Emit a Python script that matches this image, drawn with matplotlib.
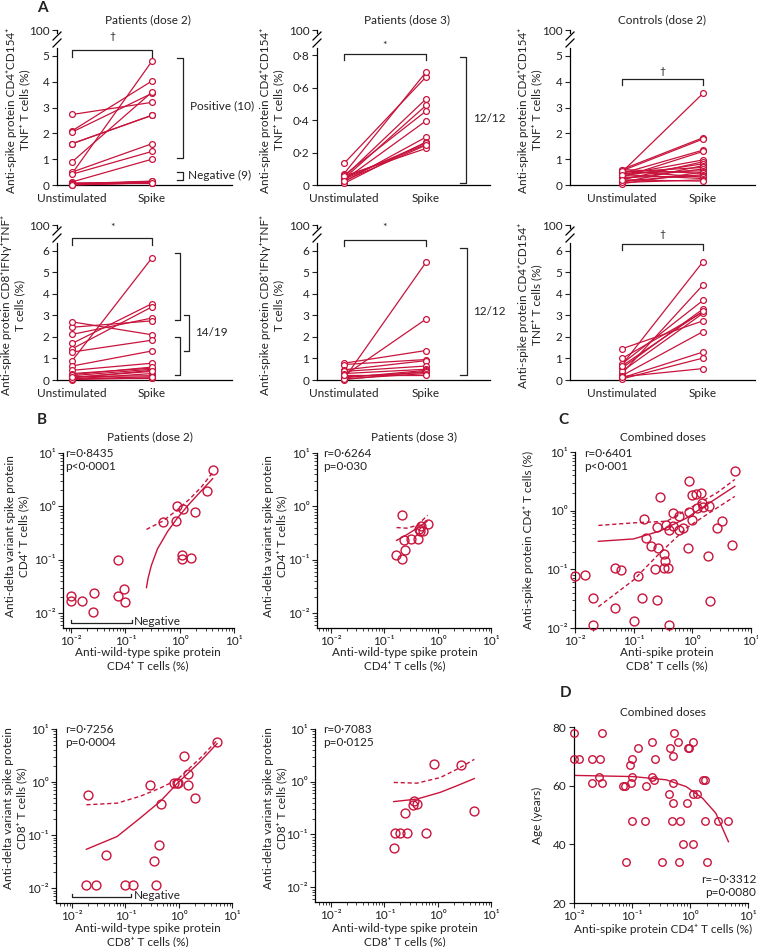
import matplotlib.pyplot as plt
from matplotlib.ticker import LogLocator, NullFormatter

plt.rcParams['font.family'] = ['Lato', 'DejaVu Sans']
plt.rcParams['font.size'] = 8.5
plt.rcParams['axes.linewidth'] = 0.9
plt.rcParams['text.color'] = '#222222'
plt.rcParams['xtick.color'] = '#222222'
plt.rcParams['ytick.color'] = '#222222'

RED = '#c8143c'
INK = '#222222'
W, H = 758, 947

# ---------------- panel A data (unstimulated vs spike, %) ----------------
cd4_d2_unstim = [2.73, 2.1, 2.05, 1.6, 1.6, 0.9, 0.45, 0.5, 0.42, 0.12,
                 0.05, 0.03, 0.02, 0.01, 0.08, 0.06, 0.04, 0.02, 0.0]
cd4_d2_spike = [3.2, 4.03, 3.55, 2.7, 2.7, 3.6, 4.8, 1.6, 1.3, 1.0,
                0.15, 0.12, 0.1, 0.08, 0.1, 0.06, 0.12, 0.14, 0.09]

cd4_d3_unstim = [0.133, 0.07, 0.05, 0.04, 0.06, 0.03, 0.02, 0.01, 0.045, 0.035, 0.055, 0.025]
cd4_d3_spike = [0.665, 0.695, 0.53, 0.49, 0.455, 0.395, 0.295, 0.265, 0.25, 0.26, 0.225, 0.245]

ctrl_cd4_unstim = [0.5, 0.6, 0.55, 0.45, 0.3, 0.4, 0.2, 0.35, 0.1, 0.5,
                   0.25, 0.45, 0.05, 0.6, 0.15, 0.3, 0.55, 0.4, 0.1, 0.2]
ctrl_cd4_spike = [3.55, 1.83, 1.78, 1.35, 1.3, 0.97, 0.9, 0.82, 0.75, 0.68,
                  0.62, 0.55, 0.5, 0.45, 0.4, 0.35, 0.3, 0.25, 0.2, 0.15]

cd8_d2_unstim = [0.9, 1.7, 1.45, 2.12, 2.45, 2.7, 1.3, 0.65, 0.45, 0.3,
                 0.2, 0.1, 0.05, 0.15, 0.02, 0.08, 0.25, 0.05, 0.12]
cd8_d2_spike = [5.68, 3.55, 3.4, 2.88, 2.75, 2.1, 1.85, 1.35, 0.78, 0.55,
                0.5, 0.45, 0.3, 0.2, 0.1, 0.08, 0.6, 0.15, 0.4]

cd8_d3_unstim = [0.05, 0.2, 0.78, 0.72, 0.47, 0.4, 0.3, 0.1, 0.02, 0.15, 0.05, 0.25]
cd8_d3_spike = [5.47, 2.83, 1.37, 0.95, 0.9, 0.65, 0.5, 0.45, 0.4, 0.35, 0.3, 0.25]

ctrl_cd4b_unstim = [0.7, 0.3, 0.75, 0.55, 1.0, 0.4, 1.45, 0.2, 0.1, 0.05, 0.15, 0.65]
ctrl_cd4b_spike = [5.5, 4.42, 3.7, 3.3, 3.15, 3.1, 2.75, 2.25, 1.3, 1.02, 0.53, 3.2]

# ---------------- panel B data (wild-type vs delta, %) ----------------
b1_wt = [0.0098, 0.0098, 0.0158, 0.0266, 0.0257, 0.073, 0.073, 0.095, 0.1,
         0.487, 0.89, 0.87, 1.15, 1.94, 1.12, 1.12, 1.6, 3.16, 4.04]
b1_delta = [0.021, 0.017, 0.0165, 0.024, 0.0104, 0.1, 0.021, 0.0287, 0.0158,
            0.52, 1.03, 0.54, 0.89, 0.77, 0.124, 0.105, 0.107, 1.97, 4.87]
b1_fit_x = [0.244, 0.26, 0.3, 0.39, 0.6, 0.89, 1.43, 2.55, 4.04]
b1_fit_y = [0.030, 0.044, 0.078, 0.16, 0.34, 0.59, 1.05, 2.0, 3.3]
b1_ci_x = [0.244, 0.49, 0.89, 1.5, 2.5, 4.04]
b1_ci_y = [0.37, 0.53, 0.85, 1.35, 2.3, 4.3]

b2_wt = [0.214, 0.23, 0.316, 0.43, 0.24, 0.168, 0.214, 0.49, 0.47, 0.53, 0.67, 0.45]
b2_delta = [0.70, 0.237, 0.245, 0.248, 0.155, 0.12, 0.104, 0.43, 0.34, 0.35, 0.47, 0.37]
b2_fit_x = [0.17, 0.266, 0.41, 0.63]
b2_fit_y = [0.23, 0.295, 0.39, 0.52]
b2_ci_x = [0.17, 0.266, 0.41, 0.65]
b2_ci_y = [0.40, 0.39, 0.44, 0.68]

b3_wt = [0.0197, 0.0186, 0.0286, 0.044, 0.1, 0.139, 0.286, 0.34, 0.42, 0.381,
         0.473, 0.806, 0.93, 1.24, 1.5, 1.47, 2.05, 5.25, 0.98]
b3_delta = [0.577, 0.0116, 0.0116, 0.0426, 0.0116, 0.0116, 0.877, 0.0318, 0.066, 0.0116,
            0.385, 0.957, 0.957, 3.05, 1.42, 0.89, 0.50, 5.6, 0.98]
b3_fit_x = [0.0186, 0.07, 0.19, 0.45, 0.93, 2.55, 5.25]
b3_fit_y = [0.054, 0.094, 0.21, 0.43, 0.93, 2.45, 5.3]
b3_ci_x = [0.0186, 0.07, 0.19, 0.45, 0.93, 2.55, 5.25]
b3_ci_y = [0.373, 0.40, 0.54, 0.77, 1.1, 2.84, 6.1]

b4_wt = [0.15, 0.161, 0.2, 0.266, 0.60, 0.248, 0.34, 0.365, 0.41, 0.84, 2.74, 4.87]
b4_delta = [0.0546, 0.109, 0.109, 0.109, 0.109, 0.255, 0.355, 0.44, 0.38, 2.2, 2.08, 0.274]
b4_fit_x = [0.15, 0.41, 1.12, 2.3, 4.87]
b4_fit_y = [0.42, 0.47, 0.63, 0.84, 1.15]
b4_ci_x = [0.15, 0.41, 1.12, 2.66, 4.87]
b4_ci_y = [0.97, 0.94, 1.2, 1.86, 2.66]

# ---------------- panel C data (CD8 vs CD4, combined) ----------------
c_cd8 = [0.01, 0.0148, 0.02, 0.02, 0.049, 0.06, 0.049, 0.119, 0.1, 0.139,
         0.247, 0.405, 0.15, 0.277, 0.25, 0.162, 0.197, 0.257, 0.228, 0.333,
         0.347, 0.333, 0.38, 0.356, 0.40, 0.474, 0.46, 0.6, 0.6, 0.68,
         0.83, 0.88, 0.88, 1.0, 1.14, 1.0, 1.19, 1.42, 1.48, 1.5,
         1.95, 1.87, 2.0, 3.16, 2.67, 4.8, 5.33]
c_cd4 = [0.078, 0.081, 0.032, 0.0114, 0.105, 0.096, 0.022, 0.076, 0.013, 0.032,
         0.030, 0.0114, 0.71, 1.71, 0.53, 0.34, 0.247, 0.231, 0.101, 0.185,
         0.137, 0.107, 0.107, 0.58, 0.47, 0.54, 0.91, 0.80, 0.47, 0.51,
         0.23, 3.24, 0.95, 1.87, 1.92, 0.68, 1.11, 1.97, 1.35, 1.15,
         1.2, 0.171, 0.0285, 0.66, 0.51, 0.26, 4.8]
c_fit_x = [0.025, 0.1, 0.28, 0.8, 1.75, 5.3]
c_fit_y = [0.30, 0.33, 0.45, 0.75, 1.26, 2.6]
c_hi_x = [0.025, 0.1, 0.366, 1.03, 2.6, 5.3]
c_hi_y = [0.56, 0.62, 0.66, 1.19, 2.0, 3.4]
c_lo_x = [0.025, 0.1, 0.28, 0.8, 1.75, 5.3]
c_lo_y = [0.023, 0.066, 0.19, 0.51, 0.855, 1.75]

# ---------------- panel D data (CD4 vs age) ----------------
d_cd4 = [0.01, 0.01, 0.0122, 0.0204, 0.0204, 0.0279, 0.0272, 0.0306, 0.0306, 0.070,
         0.075, 0.078, 0.091, 0.0975, 0.101, 0.102, 0.101, 0.127, 0.165, 0.176,
         0.223, 0.223, 0.235, 0.251, 0.331, 0.454, 0.504, 0.443, 0.504, 0.504,
         0.49, 0.538, 0.63, 0.683, 0.656, 0.748, 0.889, 0.912, 0.975, 1.11,
         1.11, 1.11, 1.3, 1.65, 1.81, 1.83, 1.93, 3.1, 4.6]
d_age = [78, 69, 69, 69, 61, 69, 63, 78, 61, 60,
         60, 34, 67, 61, 69, 63, 48, 73, 48, 60,
         75, 63, 62, 69, 34, 73, 70, 57, 61, 54,
         48, 78, 75, 48, 34, 40, 54, 73, 73, 75,
         57, 40, 57, 62, 62, 48, 34, 48, 48]
d_fit_x = [0.01, 0.104, 0.388, 0.853, 1.65, 2.79, 4.6]
d_fit_y = [63.5, 63.1, 62.0, 59.7, 55.7, 50.6, 40.9]

fig = plt.figure(figsize=(W / 100, H / 100), dpi=100)


def R(l, t, r, b):
    return [l / W, 1 - b / H, (r - l) / W, (b - t) / H]


def T(x, y, s, **kw):
    kw.setdefault('ha', 'center')
    kw.setdefault('va', 'center')
    fig.text(x / W, 1 - y / H, s, **kw)


def side_bracket(ax, x, x0, y0, y1):
    ax.plot([x0, x, x, x0], [y0, y0, y1, y1], color=INK, lw=0.9, clip_on=False)


def sig_bracket(ax, y, drop, sym, ysym):
    ax.plot([0, 0, 1, 1], [y - drop, y, y, y - drop], color=INK, lw=0.9, clip_on=False)
    ax.text(0.5, ysym, sym, ha='center', va='center', fontsize=7.5)


def paired_panel(px, xlim, ytop, yticks, ylabels, unstim, spike):
    l, t, r, b = px
    ax = fig.add_axes(R(*px))
    for u, s in zip(unstim, spike):
        ax.plot([0, 1], [u, s], color=RED, lw=0.9, marker='o', ms=4.2,
                mfc='white', mec=RED, mew=0.9, clip_on=False, zorder=3)
    ax.set_xlim(*xlim)
    ax.set_ylim(0, ytop)
    ax.set_xticks([0, 1])
    ax.set_xticklabels(['Unstimulated', 'Spike'])
    ax.tick_params(axis='x', length=0, pad=5.5, labelsize=8.5)
    ax.set_yticks(list(yticks) + [ytop])
    ax.set_yticklabels(list(ylabels) + ['100'])
    ax.tick_params(axis='y', length=3.5, width=0.8, pad=2, labelsize=8.5)
    for s in ('top', 'right'):
        ax.spines[s].set_visible(False)
    # broken y axis up to the 100 tick
    ppu = (b - t) / ytop
    ax.spines['left'].set_bounds(0, ytop - 18 / ppu)
    tr = ax.get_yaxis_transform()
    ax.plot([0, 0], [ytop - 3 / ppu, ytop], color='black', lw=0.9, transform=tr, clip_on=False)
    dx = 4 / (r - l)
    for c in (6, 13):
        yc = ytop - c / ppu
        ax.plot([-dx, dx], [yc - 4 / ppu, yc + 4 / ppu], color='black', lw=0.9,
                transform=tr, clip_on=False)
    return ax


DECADES = [0.01, 0.1, 1, 10]
DEC_LABELS = ['10⁻²', '10⁻¹', '10⁰', '10¹']


def style_log_axis(axis):
    axis.set_ticks(DECADES)
    axis.set_ticklabels(DEC_LABELS)
    axis.set_minor_locator(LogLocator(base=10, subs=range(2, 10)))
    axis.set_minor_formatter(NullFormatter())


def log_panel(px, xlim, ylim, ylog=True):
    ax = fig.add_axes(R(*px))
    ax.set_xscale('log')
    if ylog:
        ax.set_yscale('log')
    ax.set_xlim(*xlim)
    ax.set_ylim(*ylim)
    style_log_axis(ax.xaxis)
    if ylog:
        style_log_axis(ax.yaxis)
    for s in ('top', 'right'):
        ax.spines[s].set_visible(False)
    ax.tick_params(which='major', length=3.5, width=0.8, pad=2, labelsize=8.5)
    ax.tick_params(which='minor', length=2, width=0.6)
    return ax


def scatter(ax, x, y, ms=6.4):
    ax.plot(x, y, 'o', ms=ms, mfc='none', mec=RED, mew=1.0, clip_on=False, zorder=3)


def fit(ax, x, y, dashed=False):
    if dashed:
        ax.plot(x, y, color=RED, lw=1.0, dashes=(3, 2))
    else:
        ax.plot(x, y, color=RED, lw=1.0)


# ================= Panel A =================
cd4_ticks = [0, 1, 2, 3, 4, 5]
cd8_ticks = [0, 1, 2, 3, 4, 5, 6]
ax1 = paired_panel((57, 30, 232, 185), (-0.19, 2.0), 6.0, cd4_ticks,
                   [str(v) for v in cd4_ticks], cd4_d2_unstim, cd4_d2_spike)
sig_bracket(ax1, 5.23, 0.27, '†', 5.74)
side_bracket(ax1, 1.39, 1.31, 1.05, 4.9)
side_bracket(ax1, 1.39, 1.31, 0.2, 0.5)
ax1.text(1.475, 3.05, 'Positive (10)', ha='left', va='center')
ax1.text(1.45, 0.36, 'Negative (9)', ha='left', va='center')

d3_ticks = [0, 0.2, 0.4, 0.6, 0.8]
ax2 = paired_panel((317, 30, 490, 185), (-0.33, 1.78), 0.954, d3_ticks,
                   ['0', '0·2', '0·4', '0·6', '0·8'], cd4_d3_unstim, cd4_d3_spike)
sig_bracket(ax2, 0.804, 0.035, '*', 0.86)
side_bracket(ax2, 1.49, 1.41, 0.01, 0.79)
ax2.text(1.57, 0.41, '12/12', ha='left', va='center')

ax3 = paired_panel((570, 30, 755, 185), (-0.64, 1.64), 6.0, cd4_ticks,
                   [str(v) for v in cd4_ticks], ctrl_cd4_unstim, ctrl_cd4_spike)
sig_bracket(ax3, 4.11, 0.23, '†', 4.38)

ax4 = paired_panel((57, 225, 232, 380), (-0.19, 2.0), 7.2, cd8_ticks,
                   [str(v) for v in cd8_ticks], cd8_d2_unstim, cd8_d2_spike)
sig_bracket(ax4, 6.59, 0.31, '*', 7.07)
side_bracket(ax4, 1.35, 1.29, 2.8, 5.9)
side_bracket(ax4, 1.35, 1.29, 0.23, 2.0)
side_bracket(ax4, 1.46, 1.40, 1.35, 3.02)
ax4.text(1.54, 2.19, '14/19', ha='left', va='center')

ax5 = paired_panel((317, 225, 490, 380), (-0.33, 1.78), 7.2, cd8_ticks,
                   [str(v) for v in cd8_ticks], cd8_d3_unstim, cd8_d3_spike)
sig_bracket(ax5, 6.51, 0.28, '*', 7.07)
side_bracket(ax5, 1.5, 1.41, 0.23, 6.14)
ax5.text(1.57, 3.16, '12/12', ha='left', va='center')

ax6 = paired_panel((570, 225, 755, 380), (-0.64, 1.64), 7.2, cd8_ticks,
                   [str(v) for v in cd8_ticks], ctrl_cd4b_unstim, ctrl_cd4b_spike)
sig_bracket(ax6, 6.31, 0.26, '†', 6.74)

T(42, 8, 'A', fontsize=11, fontweight='bold')
T(148, 20, 'Patients (dose 2)')
T(407, 20, 'Patients (dose 3)')
T(662, 20, 'Controls (dose 2)')
lab_cd4 = 'Anti-spike protein CD4⁺CD154⁺\nTNF⁺ T cells (%)'
lab_cd8 = 'Anti-spike protein CD8⁺IFNγ⁺TNF⁺\nT cells (%)'
T(18, 110, lab_cd4, rotation=90, linespacing=1.3)
T(272, 110, lab_cd4, rotation=90, linespacing=1.3)
T(530, 110, lab_cd4, rotation=90, linespacing=1.3)
T(13, 305, lab_cd8, rotation=90, linespacing=1.3)
T(272, 305, lab_cd8, rotation=90, linespacing=1.3)
T(530, 305, lab_cd4, rotation=90, linespacing=1.3)

# ================= Panel B =================
bx1 = log_panel((63, 453, 234, 628), (10 ** -2.15, 10), (10 ** -2.28, 10))
scatter(bx1, b1_wt, b1_delta)
fit(bx1, b1_fit_x, b1_fit_y)
fit(bx1, b1_ci_x, b1_ci_y, dashed=True)
bx1.plot([0.01, 0.01, 0.13, 0.13], [0.0075, 0.0064, 0.0064, 0.0075], color=INK, lw=0.9, clip_on=False)
bx1.text(0.145, 0.0068, 'Negative', ha='left', va='center')

bx2 = log_panel((317, 453, 491, 628), (10 ** -2.26, 10), (10 ** -2.28, 10))
scatter(bx2, b2_wt, b2_delta)
fit(bx2, b2_fit_x, b2_fit_y)
fit(bx2, b2_ci_x, b2_ci_y, dashed=True)

bx3 = log_panel((56, 729, 232, 903), (10 ** -2.3, 10), (10 ** -2.28, 10))
scatter(bx3, b3_wt, b3_delta)
fit(bx3, b3_fit_x, b3_fit_y)
fit(bx3, b3_ci_x, b3_ci_y, dashed=True)
bx3.plot([0.01, 0.01, 0.13, 0.13], [0.0078, 0.0069, 0.0069, 0.0078], color=INK, lw=0.9, clip_on=False)
bx3.text(0.145, 0.0072, 'Negative', ha='left', va='center')

bx4 = log_panel((315, 729, 491, 902), (10 ** -2.3, 10), (10 ** -2.28, 10))
scatter(bx4, b4_wt, b4_delta)
fit(bx4, b4_fit_x, b4_fit_y)
fit(bx4, b4_ci_x, b4_ci_y, dashed=True)

T(42, 420, 'B', fontsize=11, fontweight='bold')
T(150, 437, 'Patients (dose 2)')
T(414, 437, 'Patients (dose 3)')
lab_d4 = 'Anti-delta variant spike protein\nCD4⁺ T cells (%)'
lab_d8 = 'Anti-delta variant spike protein\nCD8⁺ T cells (%)'
T(17, 536, lab_d4, rotation=90, linespacing=1.3)
T(275, 536, lab_d4, rotation=90, linespacing=1.3)
T(15, 808, lab_d8, rotation=90, linespacing=1.3)
T(275, 808, lab_d8, rotation=90, linespacing=1.3)
T(148, 659, 'Anti-wild-type spike protein\nCD4⁺ T cells (%)', linespacing=1.3)
T(405, 659, 'Anti-wild-type spike protein\nCD4⁺ T cells (%)', linespacing=1.3)
T(148, 935, 'Anti-wild-type spike protein\nCD8⁺ T cells (%)', linespacing=1.3)
T(405, 935, 'Anti-wild-type spike protein\nCD8⁺ T cells (%)', linespacing=1.3)
T(65, 460, 'r=0·8435\np<0·0001', ha='left', linespacing=1.3)
T(323, 460, 'r=0·6264\np=0·030', ha='left', linespacing=1.3)
T(65, 736, 'r=0·7256\np=0·0004', ha='left', linespacing=1.3)
T(323, 736, 'r=0·7083\np=0·0125', ha='left', linespacing=1.3)

# ================= Panel C =================
cx = log_panel((575, 452, 751, 628), (0.01, 10), (0.01, 10))
scatter(cx, c_cd8, c_cd4)
fit(cx, c_fit_x, c_fit_y)
fit(cx, c_hi_x, c_hi_y, dashed=True)
fit(cx, c_lo_x, c_lo_y, dashed=True)
T(563, 420, 'C', fontsize=11, fontweight='bold')
T(663, 437, 'Combined doses')
T(528, 540, 'Anti-spike protein CD4⁺ T cells (%)', rotation=90)
T(667, 659, 'Anti-spike protein\nCD8⁺ T cells (%)', linespacing=1.3)
T(584, 460, 'r=0·6401\np<0·001', ha='left', linespacing=1.3)

# ================= Panel D =================
dx_ = log_panel((574, 727, 748, 903), (0.01, 10), (20, 80), ylog=False)
dx_.set_yticks([20, 40, 60, 80])
scatter(dx_, d_cd4, d_age, ms=5.4)
fit(dx_, d_fit_x, d_fit_y)
T(566, 693, 'D', fontsize=11, fontweight='bold')
T(663, 713, 'Combined doses')
T(537, 815, 'Age (years)', rotation=90)
T(663, 929, 'Anti-spike protein CD4⁺ T cells (%)')
T(756, 886, 'r=–0·3312\np=0·0080', ha='right', linespacing=1.3)

fig.savefig('out.png', dpi=100)
